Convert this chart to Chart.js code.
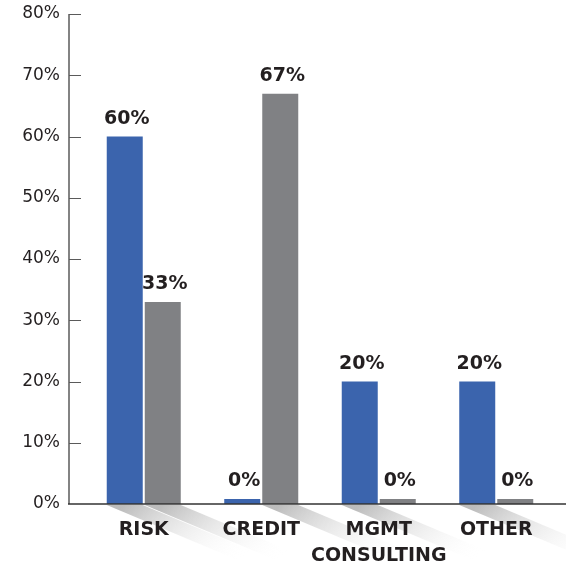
<!DOCTYPE html>
<html>
<head>
<meta charset="utf-8">
<script src="https://cdn.jsdelivr.net/npm/chart.js@4.4.1/dist/chart.umd.min.js"></script>
<style>
html, body { margin: 0; padding: 0; background: #fff; }
#wrap { width: 566px; height: 565px; }
</style>
</head>
<body>
<div id="wrap"><canvas id="myChart"></canvas></div>
<script>
var categories = ['RISK', 'CREDIT', ['MGMT', 'CONSULTING'], 'OTHER'];
var blueValues = [60, 0, 20, 20];
var greyValues = [33, 67, 0, 0];
var yMin = 0;
var yMax = 80;
var yStep = 10;

var textColor = '#231f20';

// shadows under the bars, axis lines and value labels
var decor = {
    id: 'decor',
    beforeDraw: function(chart) {
        var ctx = chart.ctx;
        ctx.save();
        chart.data.datasets.forEach(function(ds, i) {
            var meta = chart.getDatasetMeta(i);
            meta.data.forEach(function(bar, j) {
                if (ds.data[j] <= 0) return;
                var x0 = bar.x - bar.width / 2;
                var x1 = bar.x + bar.width / 2;
                var b = bar.base + 1;
                var L = 150, k = 0.42;
                var g = ctx.createLinearGradient(bar.x, b, bar.x + L * 0.5, b + L * k * 1.4);
                g.addColorStop(0, 'rgba(160,160,160,0.7)');
                g.addColorStop(0.45, 'rgba(210,210,210,0.45)');
                g.addColorStop(1, 'rgba(255,255,255,0)');
                ctx.fillStyle = g;
                ctx.beginPath();
                ctx.moveTo(x0, b);
                ctx.lineTo(x1, b);
                ctx.lineTo(x1 + L, b + L * k);
                ctx.lineTo(x0 + L, b + L * k);
                ctx.closePath();
                ctx.fill();
            });
        });
        ctx.restore();
    },
    afterDatasetsDraw: function(chart) {
        var ctx = chart.ctx;
        var ys = chart.scales.y;
        var axisX = chart.chartArea.left - 16;
        var zeroY = ys.getPixelForValue(yMin);
        ctx.save();
        // y axis
        ctx.strokeStyle = '#5a5a5a';
        ctx.lineWidth = 1.5;
        ctx.beginPath();
        ctx.moveTo(axisX, ys.getPixelForValue(yMax));
        ctx.lineTo(axisX, zeroY);
        ctx.stroke();
        for (var v = yStep; v <= yMax; v += yStep) {
            var py = Math.round(ys.getPixelForValue(v)) + 0.5;
            ctx.lineWidth = 1;
            ctx.beginPath();
            ctx.moveTo(axisX, py);
            ctx.lineTo(axisX + 12, py);
            ctx.stroke();
        }
        // x axis
        ctx.strokeStyle = '#333';
        ctx.lineWidth = 1.5;
        ctx.beginPath();
        ctx.moveTo(axisX - 1, zeroY);
        ctx.lineTo(chart.width, zeroY);
        ctx.stroke();
        // value labels
        ctx.fillStyle = textColor;
        ctx.font = 'bold 19px "DejaVu Sans"';
        ctx.textAlign = 'center';
        ctx.textBaseline = 'alphabetic';
        chart.data.datasets.forEach(function(ds, i) {
            var meta = chart.getDatasetMeta(i);
            meta.data.forEach(function(bar, j) {
                ctx.fillText(ds.data[j] + '%', bar.x + 2, Math.min(bar.y, zeroY) - 13);
            });
        });
        ctx.restore();
    }
};

var ctx = document.getElementById('myChart').getContext('2d');
var chart = new Chart(ctx, {
    type: 'bar',
    data: {
        labels: categories,
        datasets: [{
            data: blueValues,
            backgroundColor: '#3b64ad',
            categoryPercentage: 0.647,
            barPercentage: 0.947,
            minBarLength: 5
        }, {
            data: greyValues,
            backgroundColor: '#808184',
            categoryPercentage: 0.647,
            barPercentage: 0.947,
            minBarLength: 5
        }]
    },
    options: {
        responsive: true,
        maintainAspectRatio: false,
        animation: false,
        layout: { padding: { top: 14, right: 11, left: 0, bottom: 0 } },
        plugins: {
            legend: { display: false },
            tooltip: { enabled: false }
        },
        scales: {
            x: {
                grid: { display: false, drawTicks: false },
                border: { display: false },
                ticks: {
                    color: textColor,
                    font: { family: 'DejaVu Sans', size: 19, weight: 'bold', lineHeight: 1.32 },
                    padding: 14,
                    maxRotation: 0,
                    autoSkip: false
                },
                afterFit: function(s) { s.height = 61; s.paddingLeft = 0; s.paddingRight = 0; }
            },
            y: {
                min: yMin,
                max: yMax,
                grid: { display: false, drawTicks: false },
                border: { display: false },
                ticks: {
                    stepSize: yStep,
                    color: textColor,
                    font: { family: 'DejaVu Sans', size: 17 },
                    padding: 25,
                    callback: function(v) { return v + '%'; }
                },
                afterFit: function(s) { s.width = 85; s.paddingTop = 0; s.paddingBottom = 0; }
            }
        }
    },
    plugins: [decor]
});
</script>
</body>
</html>
